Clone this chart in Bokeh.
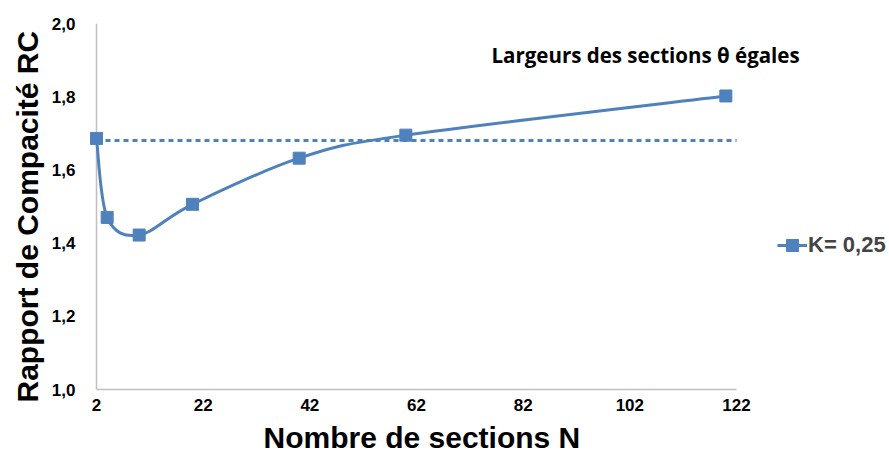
from bokeh.plotting import figure
from bokeh.models import (ColumnDataSource, FixedTicker, CustomJSTickFormatter,
                          Label, Legend, LegendItem, Range1d, Title)
from bokeh.embed import file_html
from bokeh.resources import INLINE

# ---- data ----
n_sections = [2, 4, 10, 20, 40, 60, 120]
rc_values = [1.686, 1.470, 1.422, 1.506, 1.632, 1.695, 1.802]
reference_rc = 1.68
x_ticks = [2, 22, 42, 62, 82, 102, 122]
y_ticks = [1.0, 1.2, 1.4, 1.6, 1.8, 2.0]
series_name = "K= 0,25"
note_text = "Largeurs des sections θ égales"
x_title = "Nombre de sections  N"
y_title = "Rapport de Compacité RC"

BLUE = "#4F81BD"
GREY = "#BFBFBF"
FONT = "Liberation Sans"

# ---- layout ----
W, H = 889, 463
AXIS_LEFT_PX = 96     # pixel of the first tick (2)
AXIS_RIGHT_PX = 736   # pixel of the last tick (122)
FRAME_LEFT = 88       # frame starts a bit left of the axis so the first marker is not clipped
x_start_tick, x_end_tick = x_ticks[0], x_ticks[-1]
px_per_unit = (AXIS_RIGHT_PX - AXIS_LEFT_PX) / (x_end_tick - x_start_tick)
x_start = x_start_tick - (AXIS_LEFT_PX - FRAME_LEFT) / px_per_unit
x_end = x_start_tick + (W - AXIS_LEFT_PX) / px_per_unit

# smoothed (Excel-like) bezier segments from the data points
n = len(n_sections)
x0, y0, x1, y1, cx0, cy0, cx1, cy1 = [], [], [], [], [], [], [], []
for i in range(n - 1):
    pm = max(i - 1, 0)
    pp = min(i + 2, n - 1)
    x0.append(n_sections[i]); y0.append(rc_values[i])
    x1.append(n_sections[i + 1]); y1.append(rc_values[i + 1])
    cx0.append(n_sections[i] + (n_sections[i + 1] - n_sections[pm]) / 6)
    cy0.append(rc_values[i] + (rc_values[i + 1] - rc_values[pm]) / 6)
    cx1.append(n_sections[i + 1] - (n_sections[pp] - n_sections[i]) / 6)
    cy1.append(rc_values[i + 1] - (rc_values[pp] - rc_values[i]) / 6)
bez_src = ColumnDataSource(dict(x0=x0, y0=y0, x1=x1, y1=y1, cx0=cx0, cy0=cy0, cx1=cx1, cy1=cy1))
pts_src = ColumnDataSource(dict(x=n_sections, y=rc_values))

p = figure(width=W, height=H, output_backend="svg", toolbar_location=None,
           x_range=Range1d(x_start, x_end), y_range=Range1d(y_ticks[0], y_ticks[-1]),
           min_border_left=FRAME_LEFT, min_border_right=0, min_border_top=23, min_border_bottom=74)
p.outline_line_color = None
p.background_fill_color = "white"
p.border_fill_color = "white"
p.xgrid.visible = False
p.ygrid.visible = False

# y axis line drawn at the first x tick
p.segment(x0=x_ticks[0], y0=y_ticks[0], x1=x_ticks[0], y1=y_ticks[-1],
          line_color=GREY, line_width=1.5)

# dotted reference line
p.segment(x0=x_ticks[0], y0=reference_rc, x1=x_ticks[-1], y1=reference_rc,
          line_color=BLUE, line_width=3, line_dash="5 4")

bez = p.bezier(x0="x0", y0="y0", x1="x1", y1="y1", cx0="cx0", cy0="cy0", cx1="cx1", cy1="cy1",
               source=bez_src, line_color=BLUE, line_width=3)
sq = p.scatter("x", "y", source=pts_src, marker="square", size=12,
               fill_color=BLUE, line_color=BLUE)

# axes
for ax in (p.xaxis[0], p.yaxis[0]):
    ax.axis_line_color = GREY
    ax.axis_line_width = 1.5
    ax.major_tick_line_color = None
    ax.minor_tick_line_color = None
    ax.major_tick_out = 0
    ax.major_tick_in = 0
    ax.minor_tick_out = 0
    ax.major_label_text_font = FONT
    ax.major_label_text_font_style = "bold"
    ax.major_label_text_font_size = "17px"
    ax.major_label_text_color = "black"

p.yaxis.axis_line_color = None
p.xaxis.bounds = (x_ticks[0], x_ticks[-1])
p.xaxis.ticker = FixedTicker(ticks=x_ticks)
p.yaxis.ticker = FixedTicker(ticks=y_ticks)
p.yaxis.formatter = CustomJSTickFormatter(code="return tick.toFixed(1).replace('.', ',');")
p.yaxis.major_label_standoff = 13
p.xaxis.major_label_standoff = 9

# axis titles as side-panel titles so that they can be placed like the reference
p.add_layout(Title(text=x_title, align="left", offset=175, standoff=10,
                   text_font=FONT, text_font_style="bold", text_font_size="30px",
                   text_color="black"), "below")
p.add_layout(Title(text=y_title, align="left", offset=-13, standoff=10,
                   text_font=FONT, text_font_style="bold", text_font_size="30px",
                   text_color="black"), "left")

# annotation text
p.add_layout(Label(x=403, y=335, x_units="screen", y_units="screen",
                   text=note_text, text_font="Open Sans", text_baseline="alphabetic",
                   text_font_style="bold", text_font_size="20.5px", text_color="black"))

legend = Legend(items=[LegendItem(label=series_name, renderers=[bez, sq])],
                location=(689, 128), border_line_color=None, background_fill_alpha=0,
                label_text_font=FONT, label_text_font_style="bold", label_text_font_size="22px",
                glyph_width=30, glyph_height=32, label_standoff=1, padding=0, margin=0)
p.add_layout(legend, "center")

open("out.html", "w").write(file_html(p, INLINE))
